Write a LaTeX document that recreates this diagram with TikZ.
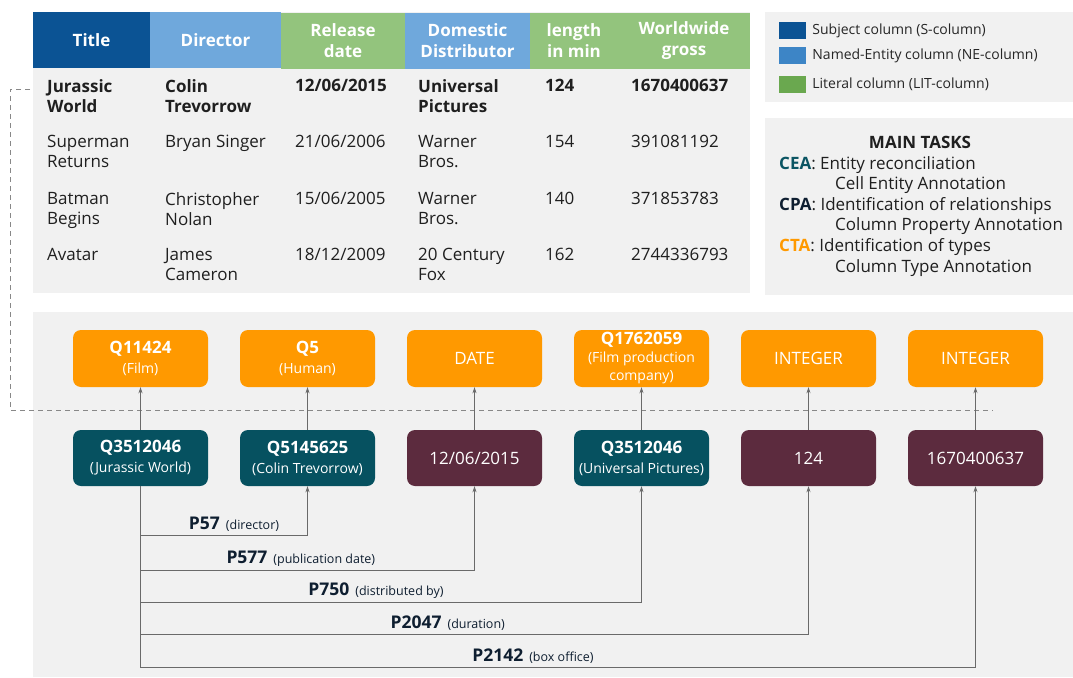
\documentclass[tikz,border=0pt]{standalone}
\usepackage{fontspec}
\setmainfont{Open Sans}
\usetikzlibrary{arrows.meta, positioning}

\definecolor{sblue}{HTML}{0B5394}
\definecolor{neblue}{HTML}{6FA8DC}
\definecolor{litgreen}{HTML}{93C47D}
\definecolor{keysblue}{HTML}{0B5394}
\definecolor{keyneblue}{HTML}{3D85C6}
\definecolor{keylitgreen}{HTML}{6AA84F}
\definecolor{panelgray}{HTML}{F1F1F1}
\definecolor{typeorange}{HTML}{FF9900}
\definecolor{entteal}{HTML}{065160}
\definecolor{litmaroon}{HTML}{5C2B3E}
\definecolor{ceateal}{HTML}{0B5563}
\definecolor{cpanavy}{HTML}{0E1E30}
\definecolor{linegray}{HTML}{6A6A6A}

\newcommand{\subl}[1]{{\fontsize{14}{17}\selectfont #1}}
\newcommand{\subp}[1]{{\fontsize{12.5}{14}\selectfont #1}}

\begin{document}
\begin{tikzpicture}[
		x=1pt, y=-1pt,
		head/.style={text=white, font=\fontsize{17}{21}\selectfont\bfseries, align=center, inner sep=0pt, minimum height=56pt},
		cell/.style={anchor=north west, align=left, inner sep=0pt, font=\fontsize{17}{20}\selectfont, text=black!88},
		boldcell/.style={cell, font=\fontsize{17}{20}\selectfont\bfseries},
		key/.style={rectangle, inner sep=0pt, minimum width=27pt, minimum height=17pt},
		keytext/.style={inner sep=0pt, font=\fontsize{14}{16}\selectfont, text=black!85},
		type/.style={rectangle, rounded corners=8pt, fill=typeorange, text=white, minimum width=135pt, minimum height=57pt, align=center, inner sep=0pt, font=\fontsize{17}{20}\selectfont},
		entity/.style={type, fill=entteal, minimum height=56pt},
		literal/.style={type, fill=litmaroon, minimum height=56pt},
		link/.style={draw=linegray, line width=1pt, -{Stealth[length=6pt, width=4pt]}},
		divider/.style={draw=linegray!80, line width=1pt, dash pattern=on 5pt off 4pt},
		proplabel/.style={above, inner sep=3pt, font=\fontsize{17.5}{19}\selectfont, text=cpanavy}
		]
		\useasboundingbox (0, 0) rectangle (1073, 677);

		% table
		\fill[panelgray] (33, 12) rectangle (750, 293);
		\node (title head) at (91.5, 40) [head, fill=sblue, minimum width=117pt] {Title};
		\node (director head) at (215.5, 40) [head, fill=neblue, minimum width=131pt] {Director};
		\node (release head) at (343, 41) [head, fill=litgreen, minimum width=124pt] {Release\\date};
		\node (distributor head) at (467.5, 41) [head, fill=neblue, minimum width=125pt] {Domestic\\Distributor};
		\node (length head) at (574, 41) [head, fill=litgreen, minimum width=88pt] {length\\in min};
		\node (gross head) at (684, 41) [head, fill=litgreen, minimum width=132pt] {Worldwide\\gross};

		\node (jw title) at (47, 79) [boldcell] {Jurassic\\World};
		\node (jw director) at (165, 79) [boldcell] {Colin\\Trevorrow};
		\node (jw release) at (295, 79) [boldcell] {12/06/2015};
		\node (jw distributor) at (418, 79) [boldcell] {Universal\\Pictures};
		\node (jw length) at (545, 79) [boldcell] {124};
		\node (jw gross) at (631, 79) [boldcell] {1670400637};

		\node (sr title) at (47, 135) [cell] {Superman\\Returns};
		\node (sr director) at (165, 135) [cell] {Bryan Singer};
		\node (sr release) at (295, 135) [cell] {21/06/2006};
		\node (sr distributor) at (418, 135) [cell] {Warner\\Bros.};
		\node (sr length) at (545, 135) [cell] {154};
		\node (sr gross) at (631, 135) [cell] {391081192};

		\node (bb title) at (47, 192) [cell] {Batman\\Begins};
		\node (bb director) at (165, 192) [cell] {Christopher\\Nolan};
		\node (bb release) at (295, 192) [cell] {15/06/2005};
		\node (bb distributor) at (418, 192) [cell] {Warner\\Bros.};
		\node (bb length) at (545, 192) [cell] {140};
		\node (bb gross) at (631, 192) [cell] {371853783};

		\node (av title) at (47, 248) [cell] {Avatar};
		\node (av director) at (165, 248) [cell] {James\\Cameron};
		\node (av release) at (295, 248) [cell] {18/12/2009};
		\node (av distributor) at (418, 248) [cell] {20 Century\\Fox};
		\node (av length) at (545, 248) [cell] {162};
		\node (av gross) at (631, 248) [cell] {2744336793};

		% legend
		\fill[panelgray] (765, 12) rectangle (1073, 102);
		\node (s key) at (792.5, 30.5) [key, fill=keysblue] {};
		\node (ne key) at (792.5, 55.5) [key, fill=keyneblue] {};
		\node (lit key) at (792.5, 84.5) [key, fill=keylitgreen] {};
		\node (s text) [keytext, right=6pt of s key] {Subject column (S-column)};
		\node (ne text) [keytext, right=6pt of ne key] {Named-Entity column (NE-column)};
		\node (lit text) [keytext, right=6pt of lit key] {Literal column (LIT-column)};

		% main tasks
		\fill[panelgray] (765, 118) rectangle (1073, 295);
		\node (tasks title) at (920, 142) [inner sep=0pt, font=\fontsize{17}{20}\selectfont\bfseries, text=black!88] {MAIN TASKS};
		\node (tasks) at (779, 156) [cell, font=\fontsize{17}{20.6}\selectfont] {\textcolor{ceateal}{\bfseries CEA}: Entity reconciliation\\
			\hspace*{56pt}Cell Entity Annotation\\
			\textcolor{cpanavy}{\bfseries CPA}: Identification of relationships\\
			\hspace*{56pt}Column Property Annotation\\
			\textcolor{typeorange}{\bfseries CTA}: Identification of types\\
			\hspace*{56pt}Column Type Annotation};

		% annotations
		\fill[panelgray] (33, 312) rectangle (1073, 677);
		\node (film) at (140.5, 358.5) [type] {\textbf{Q11424}\\\subl{(Film)}};
		\node (human) at (307.5, 358.5) [type] {\textbf{Q5}\\\subl{(Human)}};
		\node (date) at (474.5, 358.5) [type] {DATE};
		\node (company) at (641.5, 358.5) [type, font=\fontsize{17}{18}\selectfont] {\textbf{Q1762059}\\\subl{(Film production}\\\subl{company)}};
		\node (integer 1) at (808.5, 358.5) [type] {INTEGER};
		\node (integer 2) at (975.5, 358.5) [type] {INTEGER};

		\node (jurassic) at (140.5, 458) [entity] {\textbf{Q3512046}\\\subl{(Jurassic World)}};
		\node (colin) at (307.5, 458) [entity] {\textbf{Q5145625}\\\subl{(Colin Trevorrow)}};
		\node (release) at (474.5, 458) [literal] {12/06/2015};
		\node (universal) at (641.5, 458) [entity] {\textbf{Q3512046}\\\subl{(Universal Pictures)}};
		\node (length) at (808.5, 458) [literal] {124};
		\node (gross) at (975.5, 458) [literal] {1670400637};

		\coordinate (dash start) at (30, 89);
		\coordinate (dash corner) at (10, 410);
		\coordinate (dash end) at (993, 410);
		\draw[divider] (dash start) -| (dash corner) -- (dash end);

		\draw[link] (jurassic) -- (film);
		\draw[link] (colin) -- (human);
		\draw[link] (release) -- (date);
		\draw[link] (universal) -- (company);
		\draw[link] (length) -- (integer 1);
		\draw[link] (gross) -- (integer 2);

		\draw[link] (jurassic.south) -- ++(0, 49) -| node[proplabel, pos=0.28] {\textbf{P57}\hspace{6pt}\subp{(director)}} (colin.south);
		\draw[link] (jurassic.south) -- ++(0, 84) -| node[proplabel, pos=0.24] {\textbf{P577}\hspace{6pt}\subp{(publication date)}} (release.south);
		\draw[link] (jurassic.south) -- ++(0, 116) -| node[proplabel, pos=0.235] {\textbf{P750}\hspace{6pt}\subp{(distributed by)}} (universal.south);
		\draw[link] (jurassic.south) -- ++(0, 148) -| node[proplabel, pos=0.23] {\textbf{P2047}\hspace{6pt}\subp{(duration)}} (length.south);
		\draw[link] (jurassic.south) -- ++(0, 181) -| node[proplabel, pos=0.235] {\textbf{P2142}\hspace{6pt}\subp{(box office)}} (gross.south);
	\end{tikzpicture}
\end{document}
